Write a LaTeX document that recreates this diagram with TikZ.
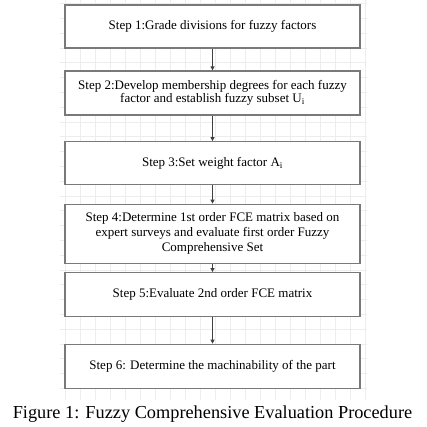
\documentclass[tikz,border=0pt]{standalone}
\usepackage{fontspec}
\setmainfont{Liberation Serif}
\usetikzlibrary{arrows.meta}
\tikzset{
	stepbox/.style={draw=gray!95!black,line width=1.3pt,fill=white,minimum width=295pt,text width=282pt,align=flush center,inner sep=2pt,font=\fontsize{13}{13.3}\selectfont},
	flow/.style={-{Triangle[length=4pt,width=4pt]},draw=black!75,line width=1.1pt},
	gridline/.style={draw=black!7,line width=0.6pt}
}
\begin{document}
\begin{tikzpicture}[x=1pt,y=-1pt]
			
			\def\xmin{60}
			\def\xmax{367}
			\def\cx{212.5}
			\useasboundingbox (0,0) rectangle (426,427);
			% background grid
			\foreach \x in {65,80,...,365}\draw[gridline] (\x,0)--(\x,400);
			\foreach \k in {0,...,26}\draw[gridline] (\xmin,3.5+14.8*\k)--(\xmax,3.5+14.8*\k);
			% steps
			\node[stepbox,minimum height=43pt] (step1) at (\cx,26.5) {Step 1:Grade divisions for fuzzy factors};
			\node[stepbox,minimum height=44pt] (step2) at (\cx,93) {Step 2:Develop membership degrees for each fuzzy factor and establish fuzzy subset U\textsubscript{i}};
			\node[stepbox,minimum height=43pt] (step3) at (\cx,163.3) {Step 3:Set weight factor A\textsubscript{i}};
			\node[stepbox,minimum height=59pt,font=\fontsize{13}{15}\selectfont] (step4) at (\cx,233.8) {Step 4:Determine 1st order FCE matrix based on expert surveys and evaluate first order Fuzzy Comprehensive Set};
			\node[stepbox,minimum height=44pt] (step5) at (\cx,294.7) {Step 5:Evaluate 2nd order FCE matrix};
			\node[stepbox,minimum height=44pt] (step6) at (\cx,366.3) {Step 6: Determine the machinability of the part};
			\foreach \a/\b in {step1/step2,step2/step3,step3/step4,step4/step5,step5/step6}\draw[flow] (\a)--(\b);
			\node (caption) at (\cx,414) {\fontsize{18.3}{20}\selectfont Figure 1: Fuzzy Comprehensive Evaluation Procedure};
			
		\end{tikzpicture}
\end{document}
